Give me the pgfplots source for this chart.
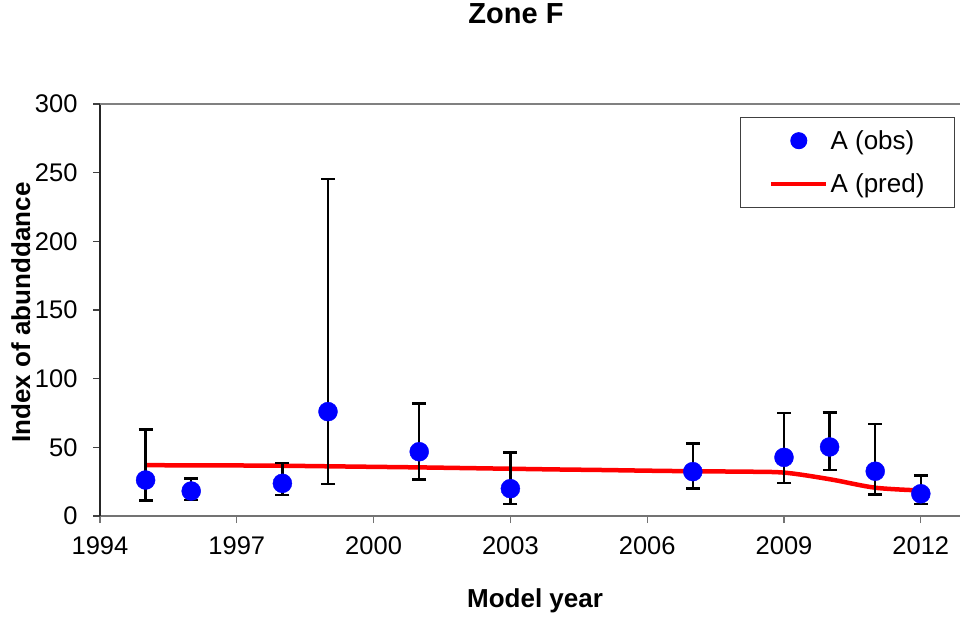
\documentclass[border=0pt]{standalone}
\usepackage{pgfplots}
\pgfplotsset{compat=1.18}
\usepackage{fontspec}
\setmainfont{Liberation Sans}
\begin{document}
\begin{tikzpicture}
\useasboundingbox (-100pt,-103pt) rectangle (860pt,516pt);
\clip (-100pt,-103pt) rectangle (860pt,516pt);
\begin{axis}[
  at={(0pt,0pt)}, anchor=south west,
  scale only axis,
  width=912pt, height=412pt,
  xmin=1994, xmax=2014, ymin=0, ymax=300,
  xtick={1994,1997,2000,2003,2006,2009,2012},
  ytick={0,50,100,150,200,250,300},
  xticklabel style={/pgf/number format/1000 sep={}, yshift=-10pt},
  yticklabel style={xshift=-12pt},
  /pgf/number format/assume math mode=true,
  tick label style={font=\fontsize{25.5}{29}\selectfont},
  axis x line*=bottom, axis y line*=left,
  x axis line style={-, draw=black!55, line width=2pt},
  y axis line style={-, draw=black!85, line width=1.7pt},
  tick align=outside,
  major tick length=7pt,
  x tick style={draw=black!55, line width=1.3pt},
  y tick style={draw=black!75, line width=1.3pt},
  title={\textbf{Zone F}},
  title style={at={(axis description cs:0.4561,1.1820)}, anchor=base, font=\fontsize{29}{33}\selectfont},
  xlabel={\textbf{Model year}},
  xlabel style={at={(axis description cs:0.4770,-0.2209)}, anchor=base, font=\fontsize{26}{30}\selectfont},
  ylabel={\textbf{Index of abunddance}},
  ylabel style={at={(axis description cs:-0.07675,0.4939)}, rotate=0, anchor=base, font=\fontsize{26}{30}\selectfont},
  legend style={at={(axis description cs:0.7018,0.9684)}, anchor=north west,
    draw=black!75, line width=1pt, fill=white,
    inner xsep=28.5pt, inner ysep=11pt, row sep=19pt,
    font=\fontsize{26}{30}\selectfont,
    nodes={inner sep=2pt}},
  legend cell align=left,
  reverse legend,
  extra description/.code={\draw[black!50, line width=1.5pt] (rel axis cs:0,1) -- (rel axis cs:1,1);},
]
\addplot[red, line width=4.5pt, smooth, no marks,
  legend image code/.code={\draw[red, line width=4.5pt] (0pt,0pt) -- (55pt,0pt);}]
  coordinates {
  (1995,37.0) (1996,36.9) (1997,36.8) (1998,36.6) (1999,36.2) (2000,35.8)
  (2001,35.4) (2002,34.9) (2003,34.4) (2004,33.9) (2005,33.5) (2006,33.0)
  (2007,32.6) (2008,32.3) (2009,31.6) (2010,26.8) (2011,20.6) (2012,18.6)
  };
\addlegendentry{A (pred)}
\addplot[only marks, mark=*, mark size=9.5pt, color=blue, mark options={fill=blue, draw=blue},
  legend image code/.code={\fill[blue] (27.5pt,0pt) circle (8pt);},
  error bars/.cd, y dir=both, y explicit,
  error mark=|,
  error bar style={black, line width=2.4pt},
  error mark options={black, line width=2.4pt, mark size=7pt},
  ]
  coordinates {
  (1995,26.2) += (0,36.9) -= (0,15.0)
  (1996,18.2) += (0,9.0) -= (0,6.6)
  (1998,23.8) += (0,15.0) -= (0,8.5)
  (1999,76.0) += (0,169.2) -= (0,52.5)
  (2001,46.8) += (0,35.2) -= (0,20.1)
  (2003,19.9) += (0,26.2) -= (0,11.2)
  (2007,32.3) += (0,20.4) -= (0,12.2)
  (2009,42.7) += (0,32.1) -= (0,18.7)
  (2010,50.3) += (0,25.2) -= (0,16.8)
  (2011,32.6) += (0,34.2) -= (0,16.8)
  (2012,16.2) += (0,13.4) -= (0,7.3)
  };
\addlegendentry{A (obs)}
\end{axis}
\end{tikzpicture}
\end{document}
